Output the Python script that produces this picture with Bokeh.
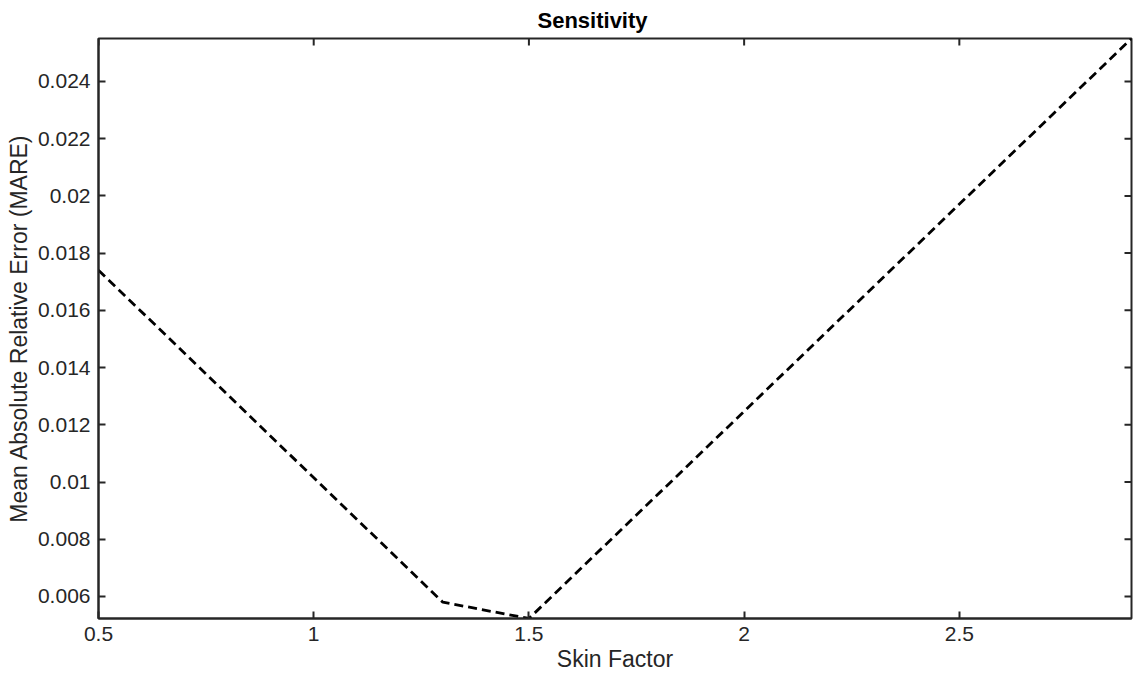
import math
from bokeh.plotting import figure
from bokeh.models import Range1d, FixedTicker, LinearAxis
from bokeh.embed import file_html
from bokeh.resources import INLINE

# Data
skin_factor = [0.5, 1.3, 1.5, 2.9]
mare = [0.0174, 0.0058, 0.00523, 0.0255]

x_ticks = [0.5, 1.0, 1.5, 2.0, 2.5]
x_tick_labels = ["0.5", "1", "1.5", "2", "2.5"]
y_ticks = [0.006, 0.008, 0.010, 0.012, 0.014, 0.016, 0.018, 0.020, 0.022, 0.024]
y_tick_labels = ["0.006", "0.008", "0.01", "0.012", "0.014", "0.016", "0.018", "0.02", "0.022", "0.024"]

X_MIN, X_MAX = 0.5, 2.9
Y_MIN, Y_MAX = 0.00523, 0.0255

FONT = "Liberation Sans"
AX = "#262626"
TICK_FS = "21px"
LABEL_FS = "23px"

p = figure(width=1134, height=677, output_backend="svg", toolbar_location=None,
           x_range=Range1d(X_MIN, X_MAX), y_range=Range1d(Y_MIN, Y_MAX),
           min_border_left=98, min_border_right=3, min_border_top=38, min_border_bottom=59,
           x_axis_location=None, y_axis_location=None)
p.background_fill_color = "white"
p.border_fill_color = "white"
p.outline_line_color = AX
p.outline_line_width = 2
p.grid.visible = False

p.title.text = "Sensitivity"
p.title.align = "left"
p.title.offset = 439
p.title.text_font = FONT
p.title.text_font_size = "22px"
p.title.text_font_style = "bold"
p.title.text_color = "black"
p.title.standoff = 11


def make_axis(ticks, labels, label, label_standoff):
    ax = LinearAxis(ticker=FixedTicker(ticks=ticks))
    ax.major_label_overrides = {t: l for t, l in zip(ticks, labels)}
    ax.major_tick_in = 7
    ax.major_tick_out = 0
    ax.minor_tick_in = 0
    ax.minor_tick_out = 0
    ax.major_tick_line_width = 2
    ax.major_tick_line_color = AX
    ax.axis_line_width = 2
    ax.axis_line_color = AX
    ax.major_label_text_font = FONT
    ax.major_label_text_font_size = TICK_FS
    ax.major_label_text_color = AX
    ax.major_label_standoff = 8
    ax.axis_label = label
    ax.axis_label_text_font = FONT
    ax.axis_label_text_font_size = LABEL_FS
    ax.axis_label_text_font_style = "normal"
    ax.axis_label_text_color = AX
    ax.axis_label_standoff = label_standoff
    return ax


p.add_layout(make_axis(x_ticks, x_tick_labels, "Skin Factor", 2), "below")
p.add_layout(make_axis(y_ticks, y_tick_labels, "Mean Absolute Relative Error (MARE)", 3), "left")

# Mirror ticks on the top and right edges of the box (MATLAB-style)
p.ray(x=x_ticks, y=[Y_MAX] * len(x_ticks), length=7, length_units="screen",
      angle=-math.pi / 2, line_color=AX, line_width=2)
p.ray(x=[X_MAX] * len(y_ticks), y=y_ticks, length=7, length_units="screen",
      angle=math.pi, line_color=AX, line_width=2)

p.line(skin_factor, mare, line_color="black", line_width=2.8, line_dash="9 5")

open("out.html", "w").write(file_html(p, INLINE))
